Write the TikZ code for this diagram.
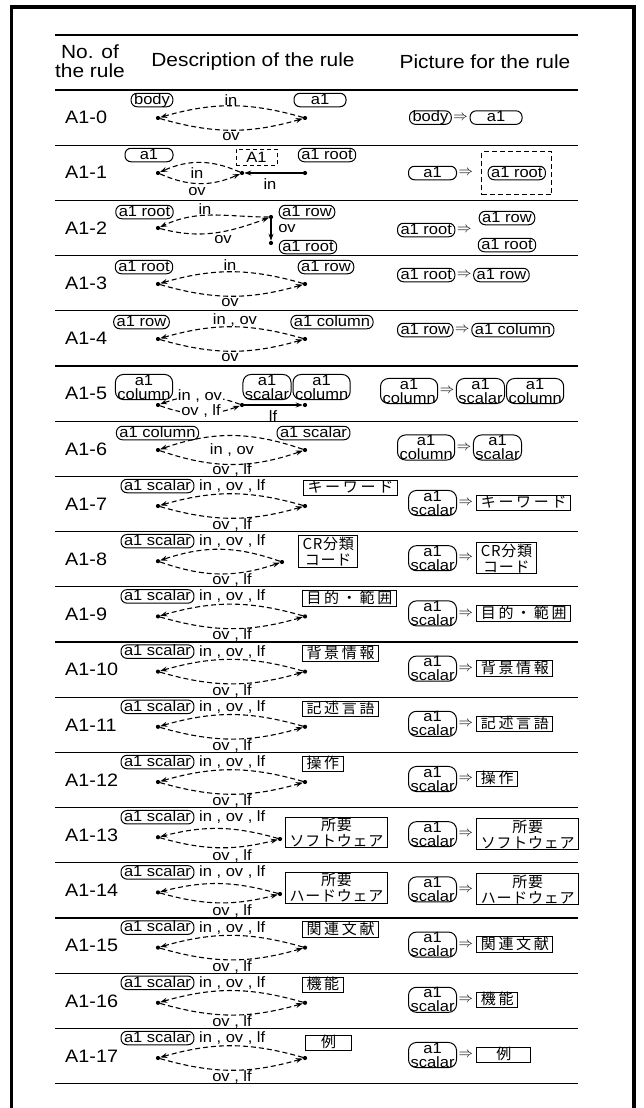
\documentclass[tikz,border=0pt]{standalone}
\usepackage{fontspec}
\setmainfont{Liberation Sans}[FakeStretch=1.1]
\newfontfamily\jfont{Noto Sans CJK JP}[LetterSpace=18]
\newfontfamily\jfontn{Noto Sans CJK JP}[LetterSpace=5]
\usetikzlibrary{arrows.meta,positioning}
\newcommand\rowfont{\fontsize{18}{20}\selectfont}
\newcommand\nfont{\fontsize{15}{14}\selectfont}
\newcommand\hfont{\fontsize{19}{19}\selectfont}
\newcommand\jsize{\fontsize{15}{16}\selectfont}
\tikzset{
 rowlab/.style={anchor=west, inner sep=0pt, font=\rowfont},
 hd/.style={inner sep=0pt, font=\hfont, align=center},
 elab/.style={inner sep=0pt, font=\nfont},
 rn/.style={draw, line width=1pt, rounded corners=6pt, inner xsep=3pt, inner ysep=0.5pt, text height=10.5pt, text depth=2pt, font=\nfont},
 rn2/.style={draw, line width=1pt, rounded corners=8pt, inner xsep=2pt, inner ysep=0.3pt, align=center, font=\nfont},
 jb/.style={draw, line width=1pt, inner xsep=4pt, inner ysep=1pt, text height=11.5pt, text depth=2pt, font={\jsize\jfont}},
 jb2/.style={draw, line width=1pt, inner xsep=4pt, inner ysep=1pt, align=center, font={\jsize\jfontn}},
 dotn/.style={circle, fill, inner sep=0pt, minimum size=4.2pt},
 dl/.style={dash pattern=on 5pt off 3pt, line width=1.1pt, -{Stealth[length=7pt,width=5pt]}},
 sl/.style={line width=1.1pt, -{Stealth[length=7pt,width=5pt]}},
 impl/.style={inner sep=0pt, font=\nfont},
}
\newcommand\stdrow[6]{% #1 k, #2 c, #3 Rx, #4 Ry, #5 bend, #6 right column start
 \node[rowlab] (lab#1) at (65,#2) {A1-#1};
 \node[rn] (s#1) at (157.5,#2-18) {a1 scalar};
 \node[elab, anchor=west] (t#1a) at (199,#2-18) {in , ov , lf};
 \node[dotn] (L#1) at (158,#2+2) {};
 \node[dotn] (R#1) at (#3,#4) {};
 \draw[dl] (R#1) to[bend right=#5] (L#1);
 \draw[dl] (L#1) to[bend right=#5] (R#1);
 \node[elab] (t#1b) at (232,#2+21) {ov , lf};
 \node[rn2, anchor=west] (ps#1) at (#6,#2-1) {a1\\scalar};
 \node[impl, right=1.5pt of ps#1] (q#1) {$\Rightarrow$};
}
\begin{document}
\begin{tikzpicture}[x=1pt,y=-1pt]
\useasboundingbox (0,0) rectangle (644,1108);
\draw[line width=3.5pt] (11.5,1112) -- (11.5,7) -- (634,7) -- (634,1112);
\draw[line width=2pt] (55,35) -- (578,35);
\draw[line width=1.2pt] (55,90) -- (578,90);
\foreach \k in {1,...,18} \draw[line width=1.3pt] (55,{90+55.2*\k}) -- (578,{90+55.2*\k});
% header
\node[hd] (h1) at (90,61) {No. of\\the rule};
\node[hd] (h2) at (253,62) {Description of the rule};
\node[hd] (h3) at (485,62) {Picture for the rule};
% A1-0
\node[rowlab] (lab0) at (65,117.6) {A1-0};
\node[rn] (n0a) at (152,100) {body};
\node[elab] (t0a) at (231,100) {in};
\node[rn, minimum width=52pt] (n0b) at (320,100) {a1};
\node[dotn] (L0) at (158,118) {};
\node[dotn] (R0) at (305,118) {};
\draw[dl] (R0) to[bend right=16] (L0);
\draw[dl] (L0) to[bend right=16] (R0);
\node[elab] (t0b) at (231,137) {ov};
\node[rn, anchor=west] (p0a) at (409,117.6) {body};
\node[impl, right=1.5pt of p0a] (q0) {$\Rightarrow$};
\node[rn, minimum width=52pt, right=1.5pt of q0] (p0b) {a1};
% A1-1
\node[rowlab] (lab1) at (65,172.8) {A1-1};
\node[rn, minimum width=48pt] (n1a) at (149,155) {a1};
\node[dotn] (L1) at (158,173) {};
\node[dotn] (M1) at (242,173) {};
\node[dotn] (R1) at (305,173) {};
\draw[dl] (M1) to[bend right=24] (L1);
\draw[dl] (L1) to[bend right=24] (M1);
\node[elab] (t1a) at (197,173) {in};
\node[draw, dash pattern=on 4pt off 3pt, line width=1pt, minimum width=41pt, minimum height=16pt, inner sep=0pt, font=\nfont] (n1b) at (256.5,157) {A1};
\draw[sl] (R1) -- (M1);
\node[elab] (t1b) at (270,184) {in};
\node[rn] (n1c) at (327,155) {a1 root};
\node[elab] (t1c) at (197,192) {ov};
\node[rn, minimum width=48pt, anchor=west] (p1a) at (408,173) {a1};
\node[impl, right=1.5pt of p1a] (q1) {$\Rightarrow$};
\node[draw, dash pattern=on 5pt off 3pt, line width=1pt, minimum width=70pt, minimum height=43pt, inner sep=0pt, right=8pt of q1] (p1b) {};
\node[rn] (p1c) at (p1b.center) {a1 root};
% A1-2
\node[rowlab] (lab2) at (65,228) {A1-2};
\node[rn] (n2a) at (144.5,212) {a1 root};
\node[elab] (t2a) at (205,209) {in};
\node[dotn] (L2) at (158,228) {};
\node[dotn] (R2) at (271,217) {};
\node[dotn] (D2) at (271,243) {};
\draw[dl] (R2) to[out=180,in=25] (L2);
\draw[dl] (L2) to[out=-15,in=200] (R2);
\draw[sl] (R2) -- (D2);
\node[elab] (t2b) at (287,229) {ov};
\node[rn] (n2b) at (307,212) {a1 row};
\node[rn] (n2c) at (308,247) {a1 root};
\node[elab] (t2c) at (223,240) {ov};
\node[rn, anchor=west] (p2a) at (397,230) {a1 root};
\node[impl, right=1.5pt of p2a] (q2) {$\Rightarrow$};
\node[rn] (p2b) at (507,218) {a1 row};
\node[rn] (p2c) at (507,245) {a1 root};
% A1-3
\node[rowlab] (lab3) at (65,283.2) {A1-3};
\node[rn] (n3a) at (144,267) {a1 root};
\node[elab] (t3a) at (230,265) {in};
\node[rn] (n3b) at (326,267) {a1 row};
\node[dotn] (L3) at (158,284) {};
\node[dotn] (R3) at (305,284) {};
\draw[dl] (R3) to[bend right=16] (L3);
\draw[dl] (L3) to[bend right=16] (R3);
\node[elab] (t3b) at (230,303) {ov};
\node[rn, anchor=west] (p3a) at (397,275) {a1 root};
\node[impl, right=1.5pt of p3a] (q3) {$\Rightarrow$};
\node[rn, right=1.5pt of q3] (p3b) {a1 row};
% A1-4
\node[rowlab] (lab4) at (65,338.4) {A1-4};
\node[rn] (n4a) at (141.5,322) {a1 row};
\node[elab] (t4a) at (235,320) {in , ov};
\node[rn] (n4b) at (332,322) {a1 column};
\node[dotn] (L4) at (158,339) {};
\node[dotn] (R4) at (305,339) {};
\draw[dl] (R4) to[bend right=16] (L4);
\draw[dl] (L4) to[bend right=16] (R4);
\node[elab] (t4b) at (230,358) {ov};
\node[rn, anchor=west] (p4a) at (397,330) {a1 row};
\node[impl, right=1.5pt of p4a] (q4) {$\Rightarrow$};
\node[rn, right=1.5pt of q4] (p4b) {a1 column};
% A1-5
\node[rowlab] (lab5) at (65,393.6) {A1-5};
\node[rn2] (n5a) at (144,387) {a1\\column};
\node[rn2] (n5b) at (267,387) {a1\\scalar};
\node[rn2, right=1pt of n5b] (n5c) {a1\\column};
\node[dotn] (L5) at (158,405) {};
\node[dotn] (M5) at (242,405) {};
\node[dotn] (R5) at (305,405) {};
\draw[dl] (M5) to[bend right=20] (L5);
\draw[dl] (L5) to[bend right=20] (M5);
\draw[sl] (M5) -- (R5);
\node[elab, fill=white, inner sep=1pt] (t5a) at (200,396) {in , ov};
\node[elab, fill=white, inner sep=1pt] (t5b) at (201,411) {ov , lf};
\node[elab] (t5c) at (273,416) {lf};
\node[rn2, anchor=west] (p5a) at (380,391) {a1\\column};
\node[impl, right=1.5pt of p5a] (q5) {$\Rightarrow$};
\node[rn2, right=1.5pt of q5] (p5b) {a1\\scalar};
\node[rn2, right=1pt of p5b] (p5c) {a1\\column};
% A1-6
\node[rowlab] (lab6) at (65,448.8) {A1-6};
\node[rn] (n6a) at (157.5,433) {a1 column};
\node[rn] (n6b) at (313.5,433) {a1 scalar};
\node[dotn] (L6) at (158,450) {};
\node[dotn] (R6) at (305,450) {};
\draw[dl] (R6) to[bend right=19] (L6);
\draw[dl] (L6) to[bend right=19] (R6);
\node[elab] (t6a) at (232,450) {in , ov};
\node[elab] (t6b) at (232,470) {ov , lf};
\node[rn2, anchor=west] (p6a) at (397,447.5) {a1\\column};
\node[impl, right=1.5pt of p6a] (q6) {$\Rightarrow$};
\node[rn2, right=1.5pt of q6] (p6b) {a1\\scalar};
% A1-7 .. A1-17
\stdrow{7}{504.0}{305}{506}{16}{408}
\node[jb, anchor=west] (b7) at (303,488) {キーワード};
\node[jb, right=3pt of q7] (pb7) {キーワード};
\stdrow{8}{559.2}{282}{562}{19}{408}
\node[jb2, anchor=west] (b8) at (298,551.5) {CR分類\\コード};
\node[jb2, right=3pt of q8] (pb8) {CR分類\\コード};
\stdrow{9}{614.4}{305}{616.4}{16}{408}
\node[jb, anchor=west] (b9) at (302,598.5) {目的・範囲};
\node[jb, right=3pt of q9] (pb9) {目的・範囲};
\stdrow{10}{669.6}{305}{671.6}{16}{408}
\node[jb, anchor=west] (b10) at (302,653.6) {背景情報};
\node[jb, right=3pt of q10] (pb10) {背景情報};
\stdrow{11}{724.8}{305}{726.8}{16}{408}
\node[jb, anchor=west] (b11) at (302,708.8) {記述言語};
\node[jb, right=3pt of q11] (pb11) {記述言語};
\stdrow{12}{780.0}{305}{782}{16}{408}
\node[jb, anchor=west] (b12) at (302,764) {操作};
\node[jb, right=3pt of q12] (pb12) {操作};
\stdrow{13}{835.2}{280}{839}{15}{408}
\node[jb2, anchor=west] (b13) at (285,832.5) {所要\\ソフトウェア};
\node[jb2, right=3pt of q13] (pb13) {所要\\ソフトウェア};
\stdrow{14}{890.4}{280}{894}{15}{408}
\node[jb2, anchor=west] (b14) at (285,887.7) {所要\\ハードウェア};
\node[jb2, right=3pt of q14] (pb14) {所要\\ハードウェア};
\stdrow{15}{945.6}{305}{947.6}{16}{408}
\node[jb, anchor=west] (b15) at (302,929.6) {関連文献};
\node[jb, right=3pt of q15] (pb15) {関連文献};
\stdrow{16}{1000.8}{305}{1002.8}{16}{408}
\node[jb, anchor=west] (b16) at (302,984.8) {機能};
\node[jb, right=3pt of q16] (pb16) {機能};
\stdrow{17}{1056.0}{305}{1058}{16}{408}
\node[jb, anchor=west, minimum width=46pt] (b17) at (305,1043) {例};
\node[jb, minimum width=54pt, right=3pt of q17] (pb17) {例};
\end{tikzpicture}
\end{document}
